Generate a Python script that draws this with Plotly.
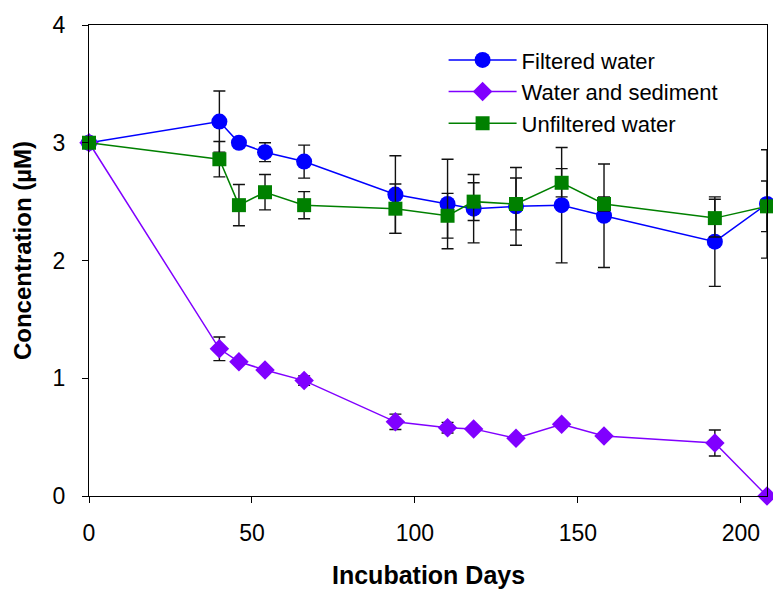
import plotly.graph_objects as go

days = [0, 40, 46, 54, 66, 94, 110, 118, 131, 145, 158, 192, 208]

filtered = [3.00, 3.18, 3.00, 2.92, 2.84, 2.56, 2.48, 2.44, 2.46, 2.47, 2.38, 2.16, 2.48]
filtered_err = [0, 0.26, 0.0, 0.08, 0.14, 0.33, 0.38, 0.29, 0.33, 0.49, 0.44, 0.38, 0.46]

sediment = [3.00, 1.25, 1.14, 1.07, 0.98, 0.63, 0.58, 0.57, 0.49, 0.61, 0.51, 0.45, 0.00]
sediment_err = [0, 0.10, 0, 0, 0.04, 0.065, 0.045, 0, 0, 0, 0, 0.11, 0]

unfiltered = [3.00, 2.86, 2.47, 2.58, 2.47, 2.44, 2.38, 2.50, 2.48, 2.66, 2.48, 2.36, 2.46]
unfiltered_err = [0, 0.15, 0.175, 0.15, 0.115, 0.21, 0.19, 0.16, 0.22, 0.12, 0.06, 0.16, 0.215]

x_ticks = [0, 50, 100, 150, 200]
y_ticks = [0, 1, 2, 3, 4]

FONT = "Arial, 'Liberation Sans', sans-serif"

def err(arr):
    return dict(type="data", array=arr, visible=True, color="#111111",
                thickness=1.4, width=6)

fig = go.Figure()
fig.add_trace(go.Scatter(
    x=days, y=filtered, name="Filtered water", mode="lines+markers",
    line=dict(color="#0000FF", width=1.5),
    marker=dict(symbol="circle", size=16, color="#0000FF"),
    error_y=err(filtered_err), cliponaxis=False))
fig.add_trace(go.Scatter(
    x=days, y=sediment, name="Water and sediment", mode="lines+markers",
    line=dict(color="#8000FF", width=1.5),
    marker=dict(symbol="diamond", size=15, color="#8000FF"),
    error_y=err(sediment_err), cliponaxis=False))
fig.add_trace(go.Scatter(
    x=days, y=unfiltered, name="Unfiltered water", mode="lines+markers",
    line=dict(color="#008000", width=1.5),
    marker=dict(symbol="square", size=14, color="#008000"),
    error_y=err(unfiltered_err), cliponaxis=False))

fig.update_layout(
    width=773, height=590,
    margin=dict(l=89, r=6, t=25, b=94),
    paper_bgcolor="white", plot_bgcolor="white",
    font=dict(family=FONT, color="#000000", size=23),
    showlegend=True,
    legend=dict(x=0.523, y=0.97, xanchor="left", yanchor="top",
                bgcolor="rgba(0,0,0,0)", font=dict(size=22, family=FONT),
                itemwidth=68, tracegroupgap=0),
    xaxis=dict(range=[0, 208], tickvals=x_ticks, ticktext=[str(v) for v in x_ticks],
               showgrid=False, zeroline=False, showline=True, linecolor="#000000",
               linewidth=1.3, mirror=True, ticks="outside", ticklen=6,
               tickcolor="#000000", tickwidth=1.3, ticklabelstandoff=10,
               tickfont=dict(size=23, family=FONT)),
    yaxis=dict(range=[0, 4], tickvals=y_ticks, ticktext=[str(v) for v in y_ticks],
               showgrid=False, zeroline=False, showline=True, linecolor="#000000",
               linewidth=1.3, mirror=True, ticks="outside", ticklen=6,
               tickcolor="#000000", tickwidth=1.3, ticklabelstandoff=12,
               tickfont=dict(size=23, family=FONT)),
    annotations=[
        dict(text="<b>Incubation Days</b>", xref="paper", yref="paper",
             x=0.5, y=-0.167, xanchor="center", yanchor="middle",
             showarrow=False, font=dict(size=25, family=FONT)),
        dict(text="<b>Concentration (µM)</b>", xref="paper", yref="paper",
             x=-0.0988, y=0.52, xanchor="center", yanchor="middle", textangle=-90,
             showarrow=False, font=dict(size=24, family=FONT)),
    ],
)

fig.write_html("out.html")
